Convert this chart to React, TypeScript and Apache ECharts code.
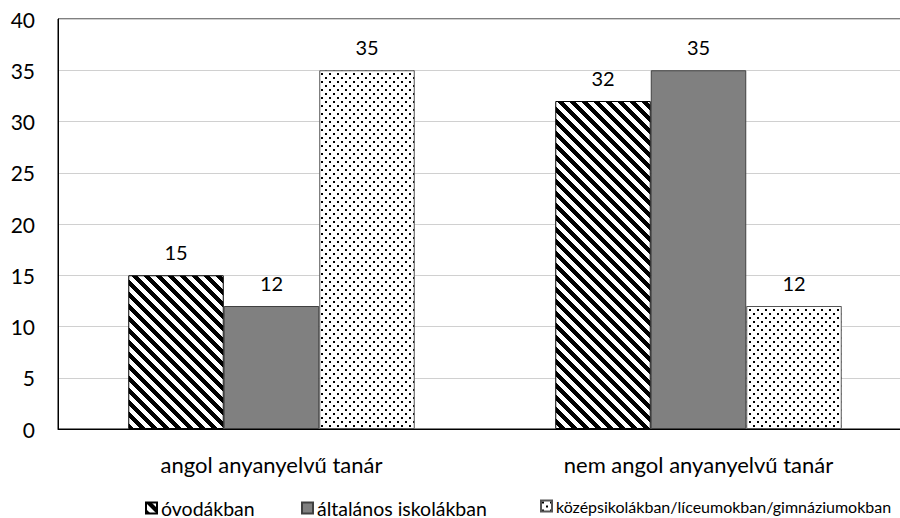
import React, { useEffect, useRef } from "react";
import * as echarts from "echarts";

const categories = ["angol anyanyelvű tanár", "nem angol anyanyelvű tanár"];
const seriesNames = ["óvodákban", "általános iskolákban", "középsikolákban/líceumokban/gimnáziumokban"];
const ovodakban = [15, 32];
const altalanos = [12, 35];
const kozepiskola = [35, 12];
const yTicks = { min: 0, max: 40, interval: 5 };

function makeHatch(): HTMLCanvasElement {
  const c = document.createElement("canvas");
  const s = 12;
  c.width = s;
  c.height = s;
  const ctx = c.getContext("2d")!;
  const img = ctx.createImageData(s, s);
  for (let y = 0; y < s; y++) {
    for (let x = 0; x < s; x++) {
      const v = (((x - y) % s) + s) % s;
      const black = v < 6;
      const i = (y * s + x) * 4;
      const col = black ? 0 : 255;
      img.data[i] = col;
      img.data[i + 1] = col;
      img.data[i + 2] = col;
      img.data[i + 3] = 255;
    }
  }
  ctx.putImageData(img, 0, 0);
  return c;
}

function makeDots(): HTMLCanvasElement {
  const c = document.createElement("canvas");
  const s = 8;
  c.width = s;
  c.height = s;
  const ctx = c.getContext("2d")!;
  ctx.fillStyle = "#ffffff";
  ctx.fillRect(0, 0, s, s);
  ctx.fillStyle = "#000000";
  ctx.fillRect(1, 1, 2, 2);
  ctx.fillRect(5, 5, 2, 2);
  return c;
}

export default function App() {
  const ref = useRef<HTMLDivElement>(null);
  useEffect(() => {
    if (!ref.current) return;
    const chart = echarts.init(ref.current, null, { renderer: "svg" });
    const font = "Lato";
    const hatch = makeHatch();
    const dots = makeDots();
    const label = {
      show: true,
      position: "top" as const,
      distance: 13,
      color: "#000",
      fontFamily: font,
      fontSize: 20,
    };
    const legendLefts = [140, 296, 535];
    const legendSizes = [19.5, 19.5, 16];
    const legends = seriesNames.map((n, i) => ({
      left: legendLefts[i],
      top: 493,
      width: 600,
      itemWidth: 11,
      itemHeight: 11,
      icon: "rect",
      textStyle: { fontFamily: font, fontSize: legendSizes[i], color: "#000", padding: [0, 0, 0, -1] },
      data: [n],
    }));
    chart.setOption({
      animation: false,
      backgroundColor: "#fff",
      grid: {
        left: 58,
        top: 19,
        right: 0,
        height: 410,
        show: true,
        borderColor: "#000",
        borderWidth: 1,
        backgroundColor: "transparent",
      },
      legend: legends,
      xAxis: {
        type: "category",
        data: categories,
        axisLine: { lineStyle: { color: "#000", width: 1 } },
        axisTick: { show: false },
        axisLabel: { color: "#000", fontFamily: font, fontSize: 22, margin: 24 },
      },
      yAxis: {
        type: "value",
        min: yTicks.min,
        max: yTicks.max,
        interval: yTicks.interval,
        axisLine: { show: true, lineStyle: { color: "#000", width: 1 } },
        axisTick: { show: false },
        splitLine: { lineStyle: { color: "#d0d0d0", width: 1 } },
        axisLabel: { color: "#000", fontFamily: font, fontSize: 21, margin: 23 },
      },
      series: [
        {
          name: seriesNames[0],
          type: "bar",
          data: ovodakban,
          barWidth: 95.5,
          barGap: "0%",
          itemStyle: { color: { image: hatch, repeat: "repeat" }, borderColor: "#000", borderWidth: 1 },
          label,
        },
        {
          name: seriesNames[1],
          type: "bar",
          data: altalanos,
          barWidth: 95.5,
          barGap: "0%",
          itemStyle: { color: "#808080", borderColor: "#404040", borderWidth: 1 },
          label,
        },
        {
          name: seriesNames[2],
          type: "bar",
          data: kozepiskola,
          barWidth: 95.5,
          barGap: "0%",
          itemStyle: { color: { image: dots, repeat: "repeat" }, borderColor: "#555", borderWidth: 1 },
          label,
        },
      ],
    });
    return () => chart.dispose();
  }, []);
  return (
    <div style={{ position: "fixed", left: 0, top: 0, width: 900, height: 518, overflow: "hidden" }}>
      <div ref={ref} style={{ width: 912, height: 518 }} />
    </div>
  );
}
